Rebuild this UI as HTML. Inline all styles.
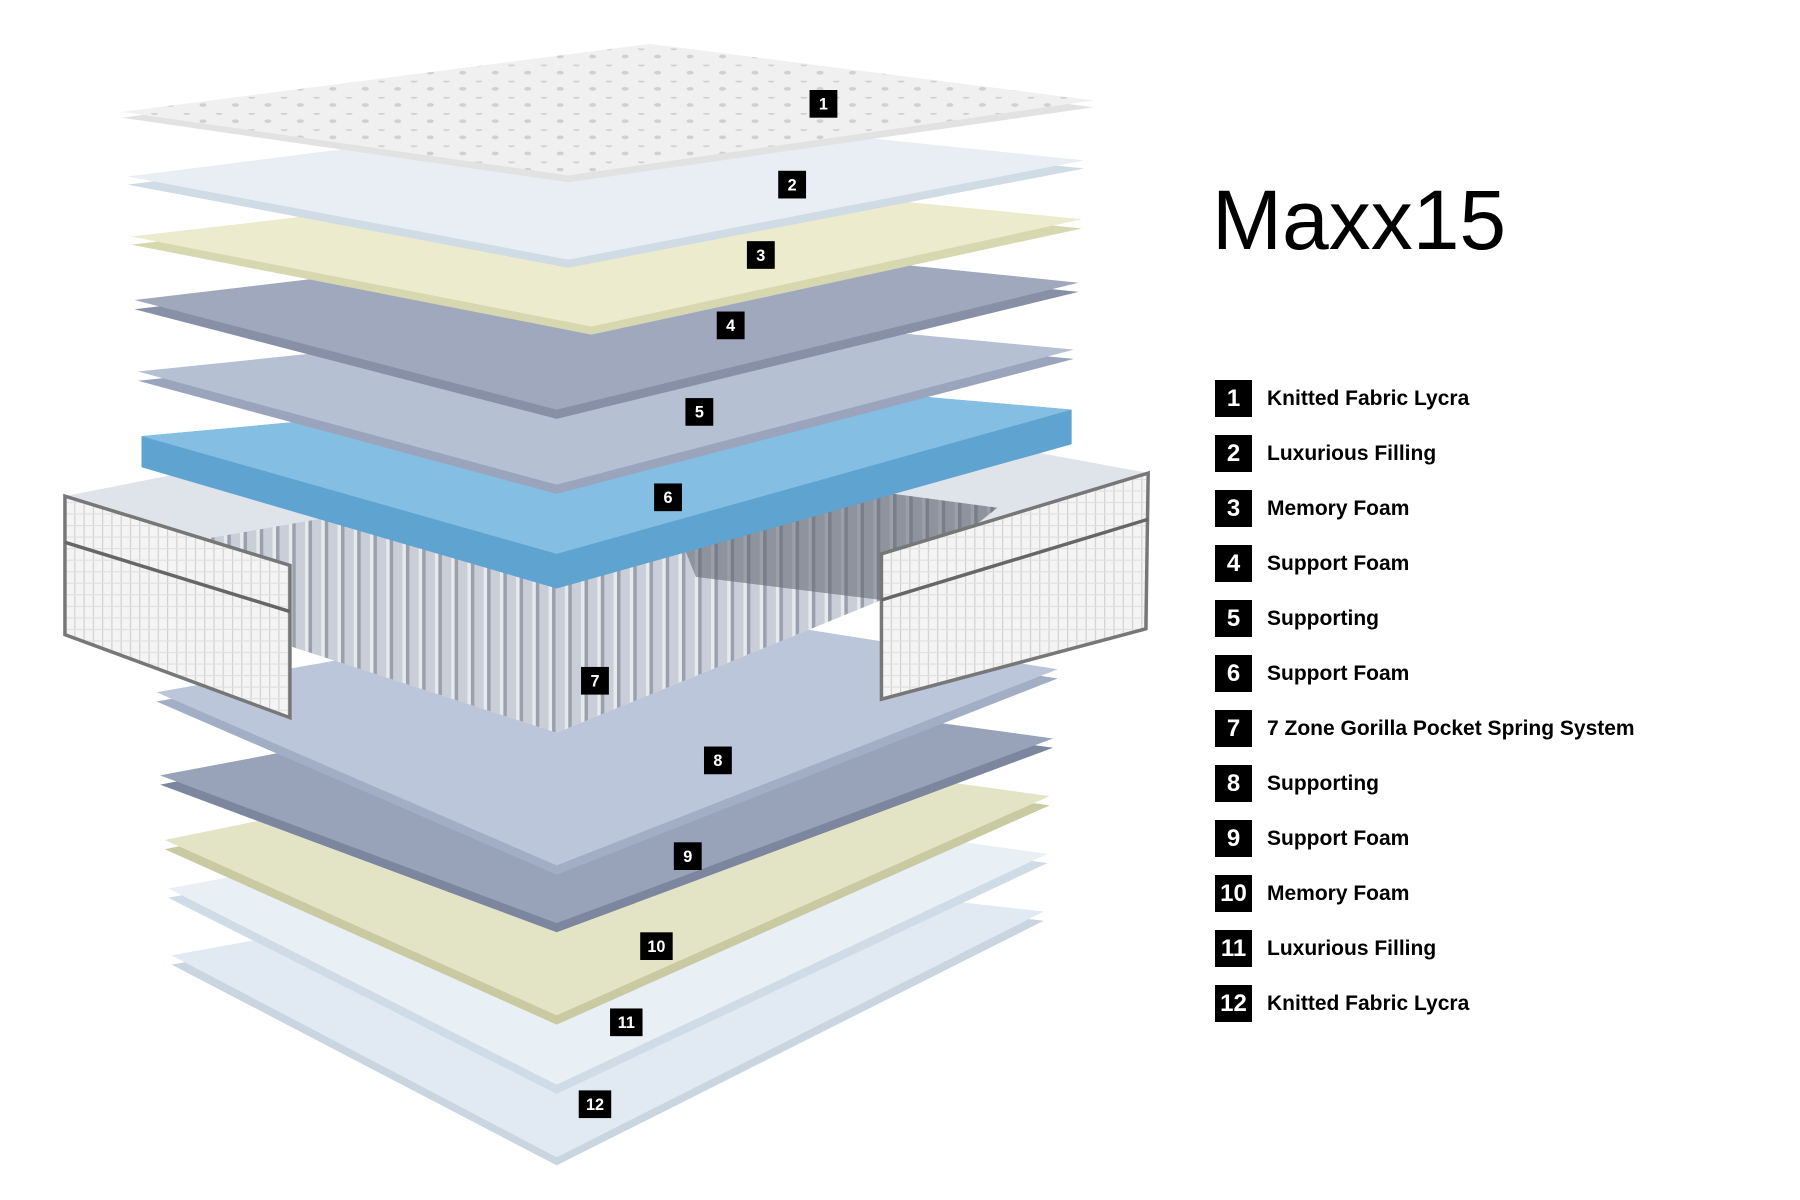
<!DOCTYPE html>
<html><head><meta charset="utf-8"><style>
html,body{margin:0;padding:0;background:#fff;width:1800px;height:1200px;overflow:hidden}
svg{position:absolute;left:0;top:0}
.t{font-family:"Liberation Sans",sans-serif;font-weight:bold}
</style></head><body>
<svg width="1800" height="1200" viewBox="0 0 1552 1040" preserveAspectRatio="none">
<defs>
<pattern id="dots" width="28" height="14" patternUnits="userSpaceOnUse"><rect width="28" height="14" fill="#f0f0f0"/><ellipse cx="7" cy="7" rx="3" ry="1.6" fill="#d0d0d0"/><ellipse cx="21" cy="0" rx="3" ry="1.6" fill="#d0d0d0"/></pattern>
<pattern id="coil" width="14" height="60" patternUnits="userSpaceOnUse"><rect width="14" height="60" fill="#c9ced8"/><rect x="0" width="3" height="60" fill="#9aa0ac"/><rect x="11" width="3" height="60" fill="#e6e9ee"/></pattern>
<pattern id="knit" width="8" height="10" patternUnits="userSpaceOnUse"><rect width="8" height="10" fill="#f4f4f4"/><rect width="1" height="10" fill="#d0d0d0"/><rect y="5" width="8" height="1" fill="#e0e0e0"/></pattern>
</defs>
<!-- 12 -->
<polygon points="148,836 560,760 900,798 480,1010" fill="#c9d6e2"/>
<polygon points="148,828 560,752 900,790 480,1003" fill="#e1eaf2"/>
<!-- 11 -->
<polygon points="145,778 560,700 903,748 480,948" fill="#cfdbe6"/>
<polygon points="145,770 560,692 903,740 480,940" fill="#e9f0f5"/>
<!-- 10 -->
<polygon points="142,736 560,650 905,698 480,888" fill="#c9c9a2"/>
<polygon points="142,728 560,642 905,690 480,880" fill="#e3e3c6"/>
<!-- 9 -->
<polygon points="138,680 560,600 908,648 480,808" fill="#7c869e"/>
<polygon points="138,672 560,592 908,640 480,800" fill="#98a2b9"/>
<!-- 8 -->
<polygon points="135,608 560,532 912,588 480,758" fill="#a2aec6"/>
<polygon points="135,600 560,524 912,580 480,750" fill="#bcc6da"/>
<!-- spring unit -->
<polygon points="56,430 560,330 990,410 990,545 760,606 760,520 480,635 250,560 250,622 56,550" fill="#dfe3ea"/>
<polygon points="160,470 560,400 860,440 760,520 480,635 250,560" fill="url(#coil)"/>
<polygon points="560,400 860,440 760,520 600,500" fill="#5d6270" opacity="0.55"/>
<polygon points="56,430 250,490 250,622 56,550" fill="url(#knit)" stroke="#777" stroke-width="3"/>
<polygon points="760,480 990,410 988,545 760,606" fill="url(#knit)" stroke="#777" stroke-width="3"/>
<line x1="56" y1="470" x2="250" y2="530" stroke="#666" stroke-width="3"/>
<line x1="760" y1="520" x2="990" y2="450" stroke="#666" stroke-width="3"/>
<!-- 6 -->
<polygon points="122,378 640,330 924,355 924,385 480,510 122,405" fill="#5fa3d0"/>
<polygon points="122,378 640,330 924,355 480,480" fill="#84bfe3"/>
<!-- 5 -->
<polygon points="119,330 600,280 926,311 480,428" fill="#9aa4bd"/>
<polygon points="119,322 600,272 926,303 480,420" fill="#b6c0d3"/>
<!-- 4 -->
<polygon points="116,268 560,215 930,253 480,363" fill="#8890a8"/>
<polygon points="116,260 560,207 930,245 480,355" fill="#a0a8be"/>
<!-- 3 -->
<polygon points="113,212 560,160 933,198 510,290" fill="#d8d8b0"/>
<polygon points="113,205 560,153 933,190 510,283" fill="#ecebcd"/>
<!-- 2 -->
<polygon points="110,160 540,105 935,146 490,232" fill="#cfdbe5"/>
<polygon points="110,153 540,98 935,139 490,225" fill="#e8eef3"/>
<!-- 1 -->
<polygon points="105,102 560,42 943,93 490,158" fill="#e2e2e2"/>
<polygon points="105,97 560,38 943,87 490,152" fill="url(#dots)"/>
<g class="t" font-size="14" fill="#fff" text-anchor="middle">
<rect x="698" y="78" width="24" height="24" fill="#000"/><text x="710" y="95">1</text>
<rect x="671" y="148" width="24" height="24" fill="#000"/><text x="683" y="165">2</text>
<rect x="644" y="209" width="24" height="24" fill="#000"/><text x="656" y="226">3</text>
<rect x="618" y="270" width="24" height="24" fill="#000"/><text x="630" y="287">4</text>
<rect x="591" y="345" width="24" height="24" fill="#000"/><text x="603" y="362">5</text>
<rect x="564" y="419" width="24" height="24" fill="#000"/><text x="576" y="436">6</text>
<rect x="501" y="578" width="24" height="24" fill="#000"/><text x="513" y="595">7</text>
<rect x="607" y="647" width="24" height="24" fill="#000"/><text x="619" y="664">8</text>
<rect x="581" y="730" width="24" height="24" fill="#000"/><text x="593" y="747">9</text>
<rect x="552" y="808" width="28" height="24" fill="#000"/><text x="566" y="825">10</text>
<rect x="526" y="874" width="28" height="24" fill="#000"/><text x="540" y="891">11</text>
<rect x="499" y="945" width="28" height="24" fill="#000"/><text x="513" y="962">12</text>
</g>
</svg>
<div style="position:absolute;left:1212px;top:172px;font-family:'Liberation Sans',sans-serif;font-size:84px;color:#000;letter-spacing:0px">Maxx15</div>
<div style="position:absolute;left:1215px;top:380px;font-family:'Liberation Sans',sans-serif;font-weight:bold;font-size:21px">
<style>.r{height:55px;display:flex;align-items:flex-start}.b{width:37px;height:37px;background:#000;color:#fff;font-size:24px;display:flex;align-items:center;justify-content:center;margin-right:15px}.l{line-height:37px}</style>
<div class="r"><div class="b">1</div><div class="l">Knitted Fabric Lycra</div></div>
<div class="r"><div class="b">2</div><div class="l">Luxurious Filling</div></div>
<div class="r"><div class="b">3</div><div class="l">Memory Foam</div></div>
<div class="r"><div class="b">4</div><div class="l">Support Foam</div></div>
<div class="r"><div class="b">5</div><div class="l">Supporting</div></div>
<div class="r"><div class="b">6</div><div class="l">Support Foam</div></div>
<div class="r"><div class="b">7</div><div class="l">7 Zone Gorilla Pocket Spring System</div></div>
<div class="r"><div class="b">8</div><div class="l">Supporting</div></div>
<div class="r"><div class="b">9</div><div class="l">Support Foam</div></div>
<div class="r"><div class="b">10</div><div class="l">Memory Foam</div></div>
<div class="r"><div class="b">11</div><div class="l">Luxurious Filling</div></div>
<div class="r"><div class="b">12</div><div class="l">Knitted Fabric Lycra</div></div>
</div>
</body></html>
